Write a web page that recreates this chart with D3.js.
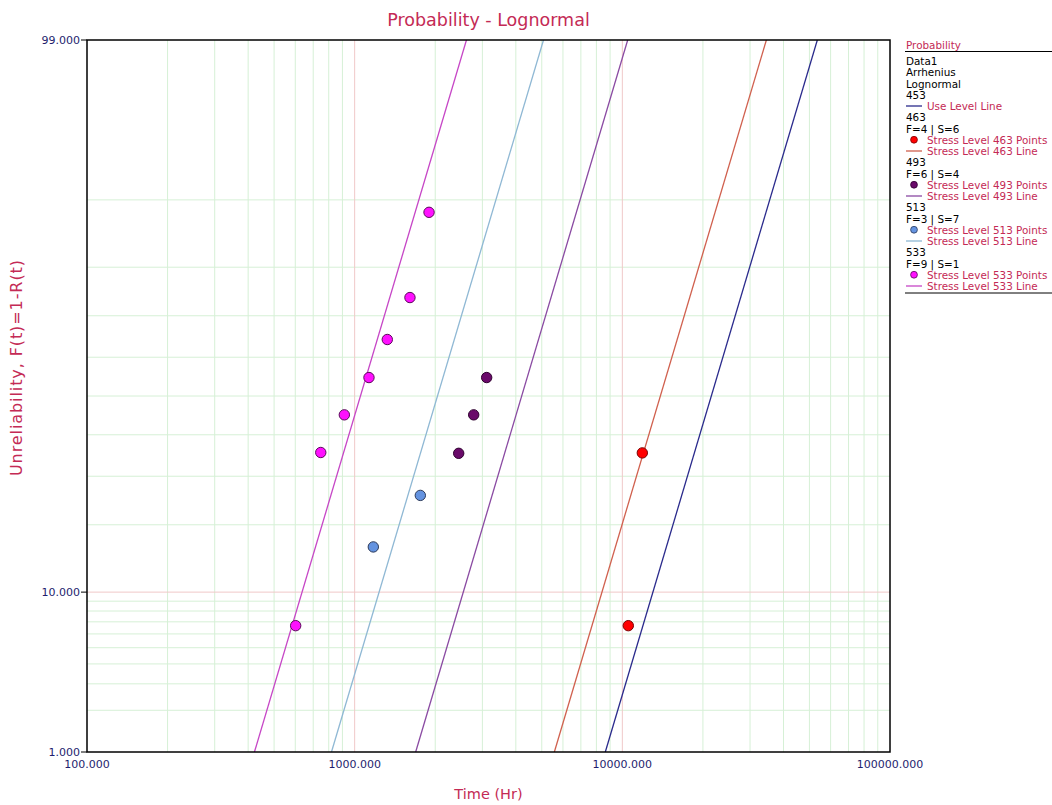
<!DOCTYPE html>
<html>
<head>
<meta charset="utf-8">
<script src="https://cdn.jsdelivr.net/npm/d3@7"></script>
<style>
  html, body { margin: 0; padding: 0; background: #fff; }
  svg { display: block; font-family: "DejaVu Sans", Verdana, sans-serif; }
</style>
</head>
<body>
<svg id="chart" width="1052" height="805"></svg>
<script>
// ---------------- data ----------------
const xTickValues = [100, 1000, 10000, 100000];
const xTickLabels = ["100.000", "1000.000", "10000.000", "100000.000"];
const yTickValues = [1, 10, 99];
const yTickLabels = ["1.000", "10.000", "99.000"];
const xMinorGrid = [200,300,400,500,600,700,800,900,2000,3000,4000,5000,6000,7000,8000,9000,20000,30000,40000,50000,60000,70000,80000,90000];
const xMajorGrid = [1000, 10000];
const yMinorGrid = [2,3,4,5,6,7,8,9,20,30,40,50,60,70,80,90];
const yMajorGrid = [10];

// fitted lines (lognormal, common sigma in ln-units)
const lineNames   = ["Use Level Line", "Stress Level 463 Line", "Stress Level 493 Line", "Stress Level 513 Line", "Stress Level 533 Line"];
const lineMedians = [21500, 13870, 4207, 2039, 1051];
const lineSigma   = 0.392;
const lineColors  = ["#2a2a8c", "#d0604e", "#8a4aa2", "#8fb8d4", "#c646c6"];

// data points (time in hours, unreliability in %)
const pts463T = [10527, 11875];
const pts463F = [6.67, 35.5];
const pts493T = [2447, 2784, 3113];
const pts493F = [35.4, 45.1, 54.8];
const pts513T = [1174, 1759];
const pts513F = [16.2, 25.8];
const pts533T = [602, 747, 915, 1131, 1324, 1609, 1896];
const pts533F = [6.67, 35.6, 45.1, 54.8, 64.4, 74.0, 88.5];

const pointSets = [
  {t: pts463T, f: pts463F, fill: "#ff0000", stroke: "#7a0000"},
  {t: pts493T, f: pts493F, fill: "#6a0a6a", stroke: "#2e002e"},
  {t: pts513T, f: pts513F, fill: "#6493e0", stroke: "#2c3a5a"},
  {t: pts533T, f: pts533F, fill: "#ff10ff", stroke: "#5a0a5a"}
];

// legend
const legendRows = [
  {type: "text", text: "Data1"},
  {type: "text", text: "Arrhenius"},
  {type: "text", text: "Lognormal"},
  {type: "text", text: "453"},
  {type: "line", text: "Use Level Line", color: "#2a2a8c"},
  {type: "text", text: "463"},
  {type: "text", text: "F=4 | S=6"},
  {type: "point", text: "Stress Level 463 Points", fill: "#ff0000", stroke: "#7a0000"},
  {type: "line", text: "Stress Level 463 Line", color: "#d0604e"},
  {type: "text", text: "493"},
  {type: "text", text: "F=6 | S=4"},
  {type: "point", text: "Stress Level 493 Points", fill: "#6a0a6a", stroke: "#2e002e"},
  {type: "line", text: "Stress Level 493 Line", color: "#8a4aa2"},
  {type: "text", text: "513"},
  {type: "text", text: "F=3 | S=7"},
  {type: "point", text: "Stress Level 513 Points", fill: "#6493e0", stroke: "#2c3a5a"},
  {type: "line", text: "Stress Level 513 Line", color: "#8fb8d4"},
  {type: "text", text: "533"},
  {type: "text", text: "F=9 | S=1"},
  {type: "point", text: "Stress Level 533 Points", fill: "#ff10ff", stroke: "#5a0a5a"},
  {type: "line", text: "Stress Level 533 Line", color: "#c646c6"}
];

// ---------------- helpers ----------------
function probit(p) {
  const a = [-3.969683028665376e+01, 2.209460984245205e+02, -2.759285104469687e+02, 1.383577518672690e+02, -3.066479806614716e+01, 2.506628277459239e+00];
  const b = [-5.447609879822406e+01, 1.615858368580409e+02, -1.556989798598866e+02, 6.680131188771972e+01, -1.328068155288572e+01];
  const c = [-7.784894002430293e-03, -3.223964580411365e-01, -2.400758277161838e+00, -2.549732539343734e+00, 4.374664141464968e+00, 2.938163982698783e+00];
  const d = [7.784695709041462e-03, 3.224671290700398e-01, 2.445134137142996e+00, 3.754408661907416e+00];
  const pl = 0.02425, ph = 1 - pl;
  let q, r;
  if (p < pl) {
    q = Math.sqrt(-2 * Math.log(p));
    return (((((c[0]*q+c[1])*q+c[2])*q+c[3])*q+c[4])*q+c[5]) / ((((d[0]*q+d[1])*q+d[2])*q+d[3])*q+1);
  } else if (p <= ph) {
    q = p - 0.5; r = q*q;
    return (((((a[0]*r+a[1])*r+a[2])*r+a[3])*r+a[4])*r+a[5])*q / (((((b[0]*r+b[1])*r+b[2])*r+b[3])*r+b[4])*r+1);
  } else {
    q = Math.sqrt(-2 * Math.log(1 - p));
    return -(((((c[0]*q+c[1])*q+c[2])*q+c[3])*q+c[4])*q+c[5]) / ((((d[0]*q+d[1])*q+d[2])*q+d[3])*q+1);
  }
}

// ---------------- layout ----------------
const svg = d3.select("#chart");
const L = 87, R = 890, T = 40, B = 752;
const crimson = "#c42a55";
const navy = "#1e1e6e";

const x = d3.scaleLog().domain([100, 100000]).range([L, R]);
const yz = d3.scaleLinear().domain([probit(0.01), probit(0.99)]).range([B, T]);
const y = p => yz(probit(p / 100));

svg.append("defs").append("clipPath").attr("id", "plotclip")
  .append("rect").attr("x", L).attr("y", T).attr("width", R - L).attr("height", B - T);

// grid
const grid = svg.append("g");
grid.selectAll(".vmin").data(xMinorGrid).enter().append("line")
  .attr("x1", d => x(d)).attr("x2", d => x(d)).attr("y1", T).attr("y2", B)
  .attr("stroke", "#d6f0d6").attr("stroke-width", 1);
grid.selectAll(".hmin").data(yMinorGrid).enter().append("line")
  .attr("y1", d => y(d)).attr("y2", d => y(d)).attr("x1", L).attr("x2", R)
  .attr("stroke", "#d6f0d6").attr("stroke-width", 1);
grid.selectAll(".vmaj").data(xMajorGrid).enter().append("line")
  .attr("x1", d => x(d)).attr("x2", d => x(d)).attr("y1", T).attr("y2", B)
  .attr("stroke", "#f0c8c8").attr("stroke-width", 1);
grid.selectAll(".hmaj").data(yMajorGrid).enter().append("line")
  .attr("y1", d => y(d)).attr("y2", d => y(d)).attr("x1", L).attr("x2", R)
  .attr("stroke", "#f0c8c8").attr("stroke-width", 1);

// fitted lines
const plot = svg.append("g").attr("clip-path", "url(#plotclip)");
const zLo = probit(0.01), zHi = probit(0.99);
lineMedians.forEach((m, i) => {
  const t1 = m * Math.exp(lineSigma * zLo);
  const t2 = m * Math.exp(lineSigma * zHi);
  plot.append("line")
    .attr("x1", x(t1)).attr("y1", y(1))
    .attr("x2", x(t2)).attr("y2", y(99))
    .attr("stroke", lineColors[i]).attr("stroke-width", 1.3);
});

// points
pointSets.forEach(s => {
  plot.selectAll(null).data(s.t.map((t, i) => [t, s.f[i]])).enter().append("circle")
    .attr("cx", d => x(d[0])).attr("cy", d => y(d[1])).attr("r", 5.2)
    .attr("fill", s.fill).attr("stroke", s.stroke).attr("stroke-width", 1);
});

// frame
svg.append("rect").attr("x", L).attr("y", T).attr("width", R - L).attr("height", B - T)
  .attr("fill", "none").attr("stroke", "#000").attr("stroke-width", 1.5);

// y ticks
yTickValues.forEach((v, i) => {
  svg.append("line").attr("x1", L - 6).attr("x2", L).attr("y1", y(v)).attr("y2", y(v))
    .attr("stroke", "#000").attr("stroke-width", 1);
  svg.append("text").attr("x", L - 7).attr("y", y(v) + 4)
    .attr("text-anchor", "end").attr("font-size", 11).attr("fill", navy)
    .text(yTickLabels[i]);
});
// x ticks
xTickValues.forEach((v, i) => {
  svg.append("text").attr("x", x(v)).attr("y", 768)
    .attr("text-anchor", "middle").attr("font-size", 11).attr("fill", navy)
    .text(xTickLabels[i]);
});

// titles
svg.append("text").attr("x", (L + R) / 2).attr("y", 26)
  .attr("text-anchor", "middle").attr("font-size", 17.5).attr("fill", crimson)
  .text("Probability - Lognormal");
svg.append("text").attr("x", (L + R) / 2).attr("y", 799)
  .attr("text-anchor", "middle").attr("font-size", 14.5).attr("fill", crimson)
  .text("Time (Hr)");
svg.append("text").attr("transform", "translate(22,368) rotate(-90)")
  .attr("text-anchor", "middle").attr("font-size", 16).attr("fill", crimson)
  .attr("textLength", 216).attr("lengthAdjust", "spacing")
  .text("Unreliability, F(t)=1-R(t)");

// legend
const lg = svg.append("g");
const LX = 906;
const lfs = 10.4;
lg.append("text").attr("x", LX).attr("y", 49).attr("font-size", lfs).attr("fill", crimson).text("Probability");
lg.append("line").attr("x1", 905).attr("x2", 1052).attr("y1", 51.5).attr("y2", 51.5).attr("stroke", "#000").attr("stroke-width", 1);
const rowY0 = 61, rowStep = 11.25;
legendRows.forEach((r, i) => {
  const cy = rowY0 + i * rowStep;
  if (r.type === "text") {
    lg.append("text").attr("x", LX).attr("y", cy + 4).attr("font-size", lfs).attr("fill", "#000").text(r.text);
  } else if (r.type === "line") {
    lg.append("line").attr("x1", 906).attr("x2", 922).attr("y1", cy).attr("y2", cy)
      .attr("stroke", r.color).attr("stroke-width", 1.3);
    lg.append("text").attr("x", 927).attr("y", cy + 4).attr("font-size", lfs).attr("fill", crimson).text(r.text);
  } else {
    lg.append("circle").attr("cx", 914).attr("cy", cy).attr("r", 3.4)
      .attr("fill", r.fill).attr("stroke", r.stroke).attr("stroke-width", 0.8);
    lg.append("text").attr("x", 927).attr("y", cy + 4).attr("font-size", lfs).attr("fill", crimson).text(r.text);
  }
});
lg.append("line").attr("x1", 905).attr("x2", 1052).attr("y1", 293).attr("y2", 293).attr("stroke", "#000").attr("stroke-width", 1);
</script>
</body>
</html>
